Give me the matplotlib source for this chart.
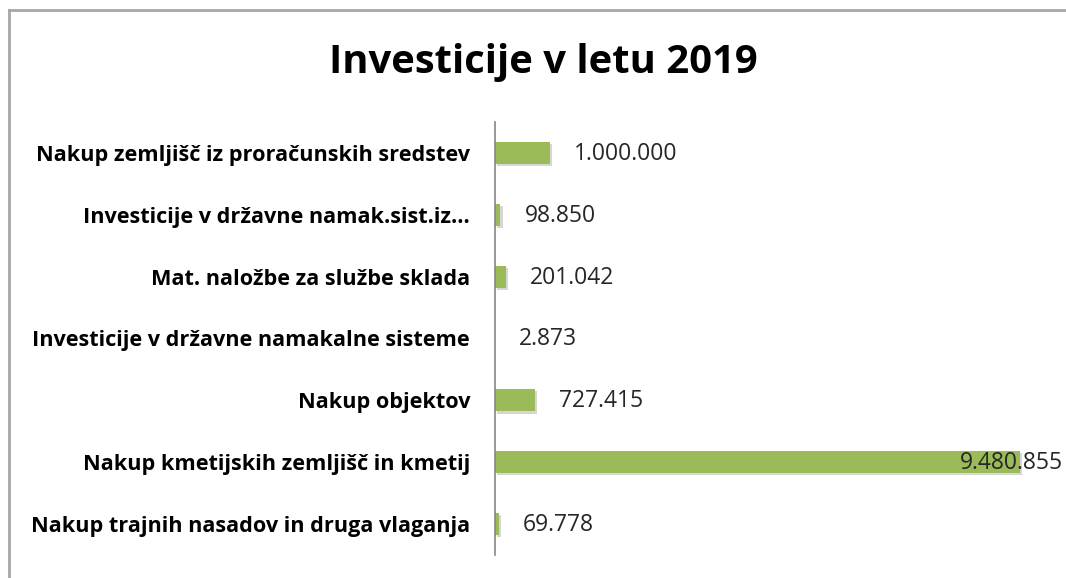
import numpy as np
import matplotlib.pyplot as plt
from matplotlib.lines import Line2D
import matplotlib.patheffects as pe

plt.rcParams['font.family'] = ['Open Sans', 'DejaVu Sans']

categories = ['Nakup zemljišč iz proračunskih sredstev',
              'Investicije v državne namak.sist.iz...',
              'Mat. naložbe za službe sklada',
              'Investicije v državne namakalne sisteme',
              'Nakup objektov',
              'Nakup kmetijskih zemljišč in kmetij',
              'Nakup trajnih nasadov in druga vlaganja']
values = [1000000, 98850, 201042, 2873, 727415, 9480855, 69778]
labels = ['1.000.000', '98.850', '201.042', '2.873', '727.415', '9.480.855', '69.778']

W, H = 1066, 578
fig = plt.figure(figsize=(W / 100, H / 100), dpi=100)
ax = fig.add_axes([495 / W, 1 - 555 / H, 1 - 495 / W, (555 - 122) / H])

y = np.arange(len(categories))
bars = ax.barh(y, values, height=0.36, color='#9BBB59', edgecolor='none')
for b in bars:
    b.set_path_effects([pe.SimplePatchShadow(offset=(1.5, -1.5), shadow_rgbFace='#bbbbbb', alpha=0.6), pe.Normal()])

ax.set_ylim(len(categories) - 0.5, -0.5)
ax.set_xlim(0, 10.31e6)

ax.set_yticks(y)
ax.set_yticklabels(categories, fontsize=15.6, fontweight='bold', color='#000000')
ax.tick_params(axis='y', length=0, pad=18)
ax.set_xticks([])

for s in ['top', 'right', 'bottom']:
    ax.spines[s].set_visible(False)
ax.spines['left'].set_color('#868686')
ax.spines['left'].set_linewidth(1.2)

big = max(values)
for yi, v, lab in zip(y, values, labels):
    off = -60 if v == big else 24
    ax.annotate(lab, (v, yi), xytext=(off, -1), textcoords='offset pixels',
                ha='left', va='center', fontsize=16.5, color='#262626', annotation_clip=False)

fig.text(543 / W, 1 - 62 / H, 'Investicije v letu 2019', ha='center', va='center',
         fontsize=28.8, fontweight='bold', color='#000000')

# chart frame (top and left edges visible)
fig.add_artist(Line2D([9 / W, 1], [1 - 10 / H, 1 - 10 / H], color='#A6A6A6', lw=2, transform=fig.transFigure))
fig.add_artist(Line2D([9 / W, 9 / W], [0, 1 - 10 / H], color='#A6A6A6', lw=2, transform=fig.transFigure))

fig.savefig('out.png', dpi=100)
